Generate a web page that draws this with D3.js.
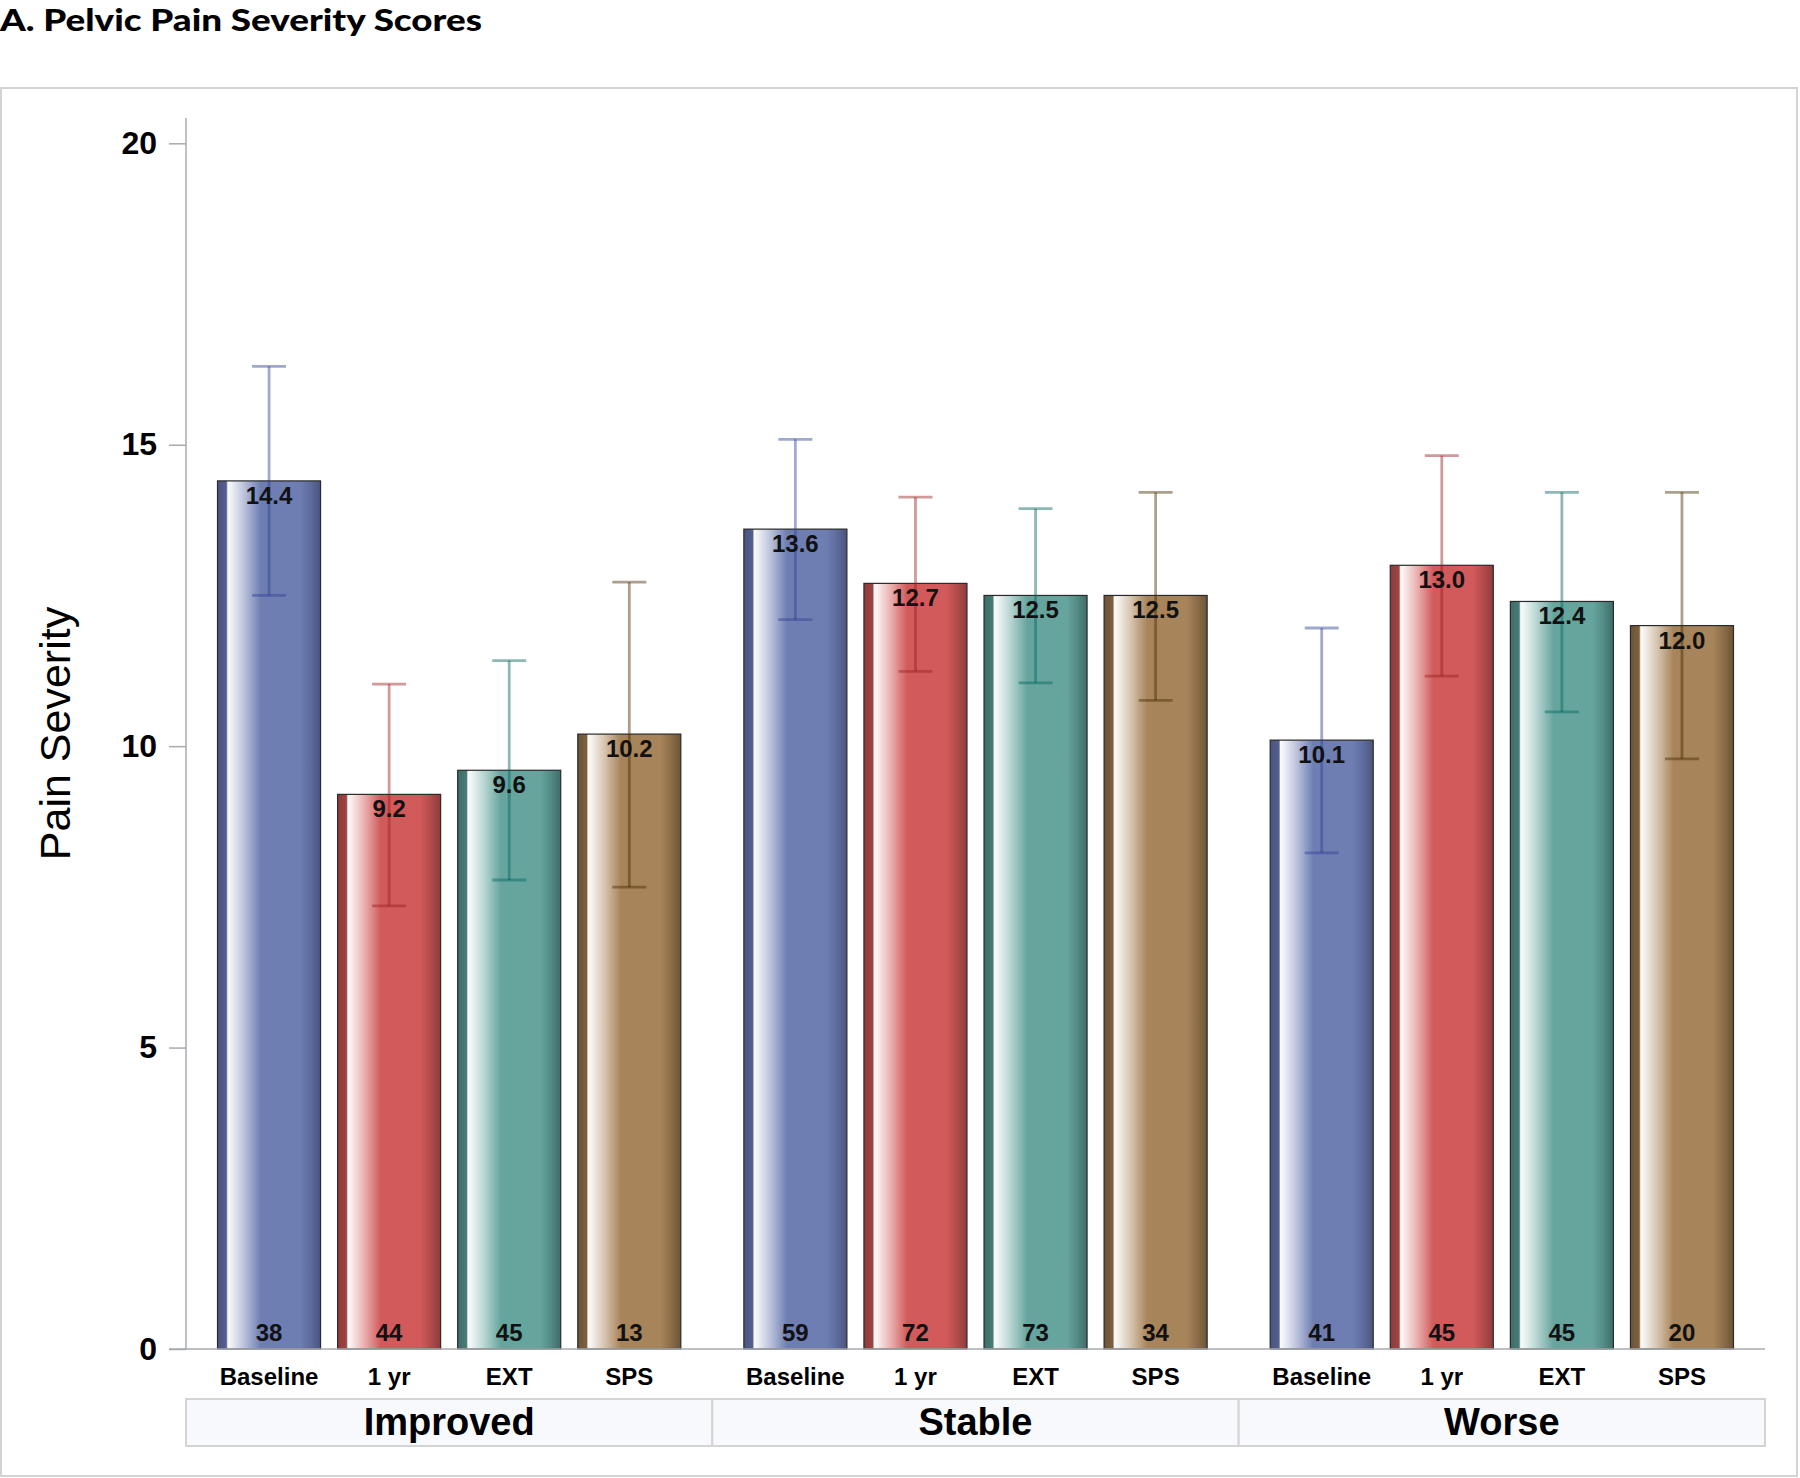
<!DOCTYPE html>
<html>
<head>
<meta charset="utf-8">
<script src="https://cdn.jsdelivr.net/npm/d3@7"></script>
<style>
  html, body { margin: 0; padding: 0; background: #ffffff; }
  svg { display: block; }
</style>
</head>
<body>
<svg id="chart" width="1800" height="1478"></svg>
<script>
// ---------------- data ----------------
const groups = ["Improved", "Stable", "Worse"];
const timepoints = ["Baseline", "1 yr", "EXT", "SPS"];

const improvedMean  = [14.4, 9.2, 9.6, 10.2];
const stableMean    = [13.6, 12.7, 12.5, 12.5];
const worseMean     = [10.1, 13.0, 12.4, 12.0];

const improvedLower = [12.50, 7.35, 7.78, 7.66];
const improvedUpper = [16.30, 11.03, 11.42, 12.72];
const stableLower   = [12.10, 11.24, 11.05, 10.76];
const stableUpper   = [15.09, 14.13, 13.94, 14.21];
const worseLower    = [8.23, 11.16, 10.57, 9.79];
const worseUpper    = [11.96, 14.82, 14.21, 14.21];

const improvedN = [38, 44, 45, 13];
const stableN   = [59, 72, 73, 34];
const worseN    = [41, 45, 45, 20];

const yTicks = [0, 5, 10, 15, 20];
const titleText = "A. Pelvic Pain Severity Scores";
const yTitle = "Pain Severity";

// ---------------- build rows ----------------
const meanByGroup  = [improvedMean, stableMean, worseMean];
const lowerByGroup = [improvedLower, stableLower, worseLower];
const upperByGroup = [improvedUpper, stableUpper, worseUpper];
const nByGroup     = [improvedN, stableN, worseN];

const rows = [];
groups.forEach((g, gi) => {
  timepoints.forEach((t, ti) => {
    rows.push({
      group: g, time: t, ti,
      mean: meanByGroup[gi][ti],
      lo: lowerByGroup[gi][ti],
      hi: upperByGroup[gi][ti],
      n: nByGroup[gi][ti]
    });
  });
});

// ---------------- styles ----------------
const baseColors = ["#6e7eb3", "#d25a5a", "#66a59e", "#a8845a"];
const edgeColors = ["#4a5582", "#8e3b3b", "#3e6d68", "#6d5436"];
const whiskerColors = ["#2c3f92", "#9a1f1f", "#00645a", "#4a2a00"];
const fontFamily = "'Liberation Sans', Arial, Helvetica, sans-serif";

const svg = d3.select("#chart");

// ---------------- scales ----------------
const plotLeft = 186, plotRight = 1765;
const y = d3.scaleLinear().domain([0, 20]).range([1349, 143.3]);
const xOuter = d3.scaleBand().domain(groups).range([plotLeft, plotRight]).padding(0);
const xInner = d3.scaleBand().domain(timepoints)
  .range([0, xOuter.bandwidth()])
  .paddingInner(0.142).paddingOuter(0.2625);

// ---------------- gradients ----------------
const defs = svg.append("defs");
baseColors.forEach((c, i) => {
  const base = d3.color(c);
  const edge = d3.color(edgeColors[i]);
  const mix = (a, b, t) => d3.interpolateRgb(a, b)(t);
  const grad = defs.append("linearGradient")
    .attr("id", "grad" + i)
    .attr("x1", "0%").attr("x2", "100%").attr("y1", "0%").attr("y2", "0%");
  const stops = [
    [0.00, edge.formatHex()],
    [0.085, mix(edge, base, 0.25)],
    [0.10, mix("#ffffff", base, 0.04)],
    [0.13, mix("#ffffff", base, 0.10)],
    [0.25, mix("#ffffff", base, 0.45)],
    [0.42, base.formatHex()],
    [0.80, base.formatHex()],
    [0.90, mix(base, edge, 0.45)],
    [1.00, edge.formatHex()]
  ];
  stops.forEach(s => grad.append("stop").attr("offset", s[0]).attr("stop-color", s[1]));
});

// ---------------- frame & title ----------------
svg.append("rect")
  .attr("x", 1).attr("y", 88).attr("width", 1796).attr("height", 1388)
  .attr("fill", "none").attr("stroke", "#d3d3d3").attr("stroke-width", 2);

svg.append("text")
  .attr("x", 0).attr("y", 31)
  .attr("font-family", "Lato, 'Open Sans', sans-serif")
  .attr("font-weight", 900)
  .attr("font-size", 31)
  .attr("textLength", 482)
  .attr("lengthAdjust", "spacingAndGlyphs")
  .attr("fill", "#000")
  .text(titleText);

// ---------------- group label boxes ----------------
const gBoxes = svg.append("g");
gBoxes.selectAll("rect").data(groups).join("rect")
  .attr("x", d => xOuter(d)).attr("y", 1399)
  .attr("width", xOuter.bandwidth()).attr("height", 47)
  .attr("fill", "#f8f9fd").attr("stroke", "#d4d4d4").attr("stroke-width", 2);
gBoxes.selectAll("text").data(groups).join("text")
  .attr("x", d => xOuter(d) + xOuter.bandwidth() / 2)
  .attr("y", 1435)
  .attr("text-anchor", "middle")
  .attr("font-family", fontFamily).attr("font-weight", "bold").attr("font-size", 38)
  .attr("fill", "#000")
  .text(d => d);

// ---------------- y axis ----------------
const yAxisG = svg.append("g").attr("transform", `translate(${plotLeft},0)`);
yAxisG.call(d3.axisLeft(y).tickValues(yTicks).tickSize(17).tickPadding(12).tickFormat(d3.format("d")));
yAxisG.select(".domain").remove();
yAxisG.selectAll(".tick line").attr("stroke", "#a7abb0").attr("stroke-width", 1.5);
yAxisG.selectAll(".tick text")
  .attr("font-family", fontFamily).attr("font-weight", "bold").attr("font-size", 32)
  .attr("fill", "#000");
svg.append("line")
  .attr("x1", plotLeft).attr("x2", plotLeft).attr("y1", 118).attr("y2", y(0))
  .attr("stroke", "#a7abb0").attr("stroke-width", 1.5);

svg.append("text")
  .attr("transform", `translate(70, ${(118 + y(0)) / 2}) rotate(-90)`)
  .attr("text-anchor", "middle")
  .attr("font-family", fontFamily).attr("font-size", 43).attr("fill", "#000")
  .text(yTitle);

// ---------------- bars ----------------
const barG = svg.append("g");
const barX = d => xOuter(d.group) + xInner(d.time);

barG.selectAll("rect.bar").data(rows).join("rect")
  .attr("class", "bar")
  .attr("x", barX)
  .attr("y", d => y(d.mean))
  .attr("width", xInner.bandwidth())
  .attr("height", d => y(0) - y(d.mean))
  .attr("fill", d => `url(#grad${d.ti})`)
  .attr("stroke", "#2a2a2a").attr("stroke-width", 1.2);

// x axis line (drawn after bars)
svg.append("line")
  .attr("x1", 169).attr("x2", plotRight).attr("y1", y(0)).attr("y2", y(0))
  .attr("stroke", "#a7abb0").attr("stroke-width", 1.5);

// ---------------- error bars ----------------
const errG = svg.append("g").attr("stroke-width", 2.8).attr("stroke-opacity", 0.45);
const cx = d => barX(d) + xInner.bandwidth() / 2;
const capHalf = 17;
errG.selectAll("line.stem").data(rows).join("line")
  .attr("class", "stem")
  .attr("x1", cx).attr("x2", cx)
  .attr("y1", d => y(d.hi)).attr("y2", d => y(d.lo))
  .attr("stroke", d => whiskerColors[d.ti]);
errG.selectAll("line.capHi").data(rows).join("line")
  .attr("class", "capHi")
  .attr("x1", d => cx(d) - capHalf).attr("x2", d => cx(d) + capHalf)
  .attr("y1", d => y(d.hi)).attr("y2", d => y(d.hi))
  .attr("stroke", d => whiskerColors[d.ti]);
errG.selectAll("line.capLo").data(rows).join("line")
  .attr("class", "capLo")
  .attr("x1", d => cx(d) - capHalf).attr("x2", d => cx(d) + capHalf)
  .attr("y1", d => y(d.lo)).attr("y2", d => y(d.lo))
  .attr("stroke", d => whiskerColors[d.ti]);

// ---------------- labels ----------------
const labG = svg.append("g")
  .attr("font-family", fontFamily).attr("font-weight", "bold").attr("font-size", 24)
  .attr("text-anchor", "middle").attr("fill", "#111");
labG.selectAll("text.val").data(rows).join("text")
  .attr("class", "val")
  .attr("x", cx).attr("y", d => y(d.mean) + 23)
  .text(d => d.mean.toFixed(1));
labG.selectAll("text.n").data(rows).join("text")
  .attr("class", "n")
  .attr("x", cx).attr("y", y(0) - 8)
  .text(d => d.n);
labG.selectAll("text.tick").data(rows).join("text")
  .attr("class", "tick")
  .attr("x", cx).attr("y", 1385)
  .attr("fill", "#000")
  .text(d => d.time);
</script>
</body>
</html>
